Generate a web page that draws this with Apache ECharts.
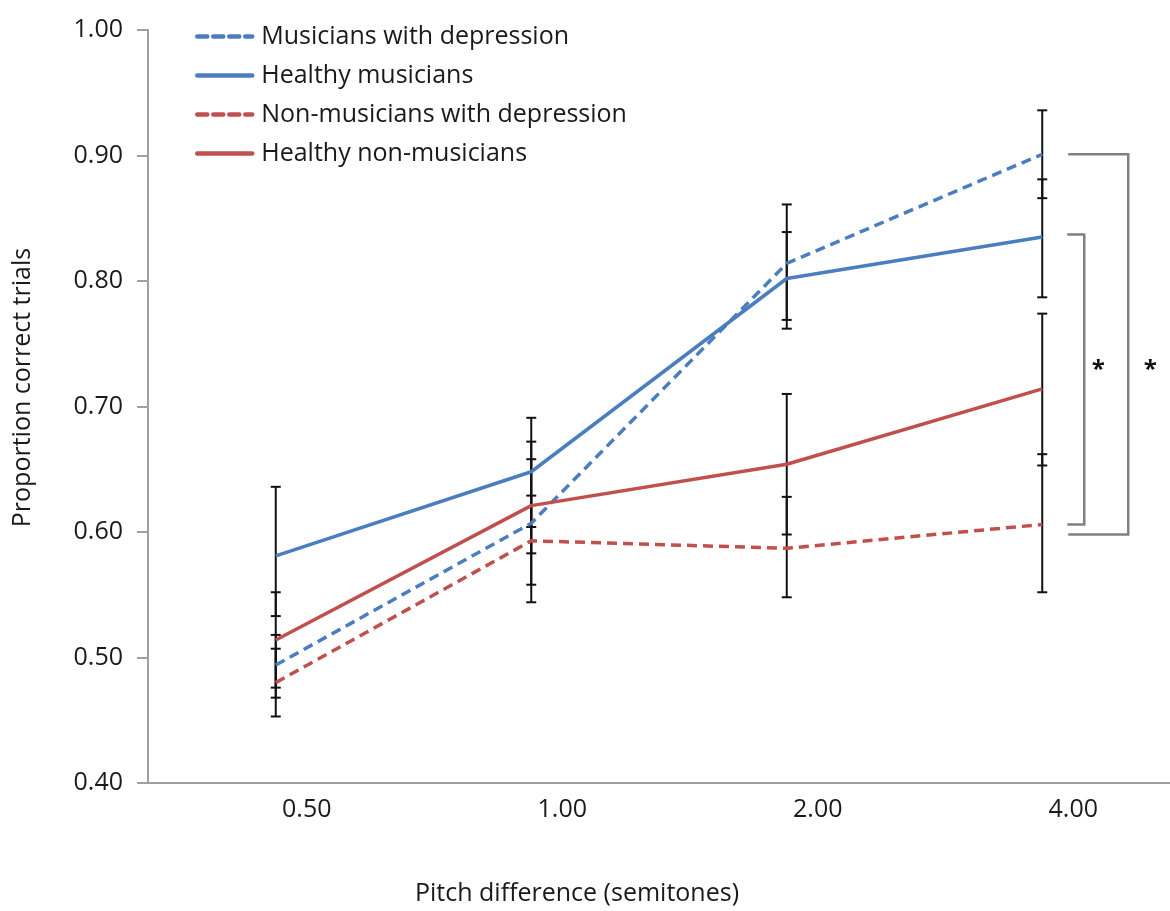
<!DOCTYPE html>
<html>
<head>
<meta charset="utf-8">
<script src="https://cdn.jsdelivr.net/npm/echarts@6/dist/echarts.min.js"></script>
<style>
  html, body { margin: 0; padding: 0; background: #fff; }
  #chart { width: 1170px; height: 911px; }
</style>
</head>
<body>
<div id="chart"></div>
<script>
const categories = ['0.50', '1.00', '2.00', '4.00'];

const seriesNames = [
  'Musicians with depression',
  'Healthy musicians',
  'Non-musicians with depression',
  'Healthy non-musicians'
];

// means
const musDep = [0.494, 0.607, 0.814, 0.901];
const musHealthy = [0.581, 0.648, 0.802, 0.835];
const nonDep = [0.480, 0.593, 0.587, 0.606];
const nonHealthy = [0.514, 0.621, 0.654, 0.714];

// error bars [low, high]
const musDepErr = [[0.468, 0.518], [0.544, 0.672], [0.769, 0.861], [0.866, 0.936]];
const musHealthyErr = [[0.533, 0.636], [0.604, 0.691], [0.762, 0.839], [0.787, 0.881]];
const nonDepErr = [[0.453, 0.507], [0.558, 0.629], [0.548, 0.628], [0.552, 0.662]];
const nonHealthyErr = [[0.476, 0.552], [0.583, 0.658], [0.598, 0.710], [0.653, 0.774]];

// significance brackets at 4.00 [bottom, top]
const bracketInner = [0.606, 0.837];
const bracketOuter = [0.598, 0.901];
const starLevel = 0.734;

const blue = '#4a7ebf';
const red = '#c0504d';
const axisGray = '#a0a0a0';
const textColor = '#1a1a1a';
const font = 'Open Sans';

const chart = echarts.init(document.getElementById('chart'));

function errSeries(name, errs) {
  return {
    name: name + ' err',
    type: 'custom',
    z: 1,
    silent: true,
    data: errs.map((e, i) => [i, e[0], e[1]]),
    renderItem: function (params, api) {
      const lo = api.coord([api.value(0), api.value(1)]);
      const hi = api.coord([api.value(0), api.value(2)]);
      const w = 5;
      const style = { stroke: '#111', lineWidth: 2 };
      return {
        type: 'group',
        children: [
          { type: 'line', shape: { x1: lo[0], y1: lo[1], x2: hi[0], y2: hi[1] }, style },
          { type: 'line', shape: { x1: lo[0] - w, y1: lo[1], x2: lo[0] + w, y2: lo[1] }, style },
          { type: 'line', shape: { x1: hi[0] - w, y1: hi[1], x2: hi[0] + w, y2: hi[1] }, style }
        ]
      };
    }
  };
}

function lineSeries(name, data, color, dashed) {
  return {
    name: name,
    type: 'line',
    data: data,
    symbol: 'none',
    z: 3,
    lineStyle: { color: color, width: 3.5, type: dashed ? [10, 6] : 'solid' },
    itemStyle: { color: color }
  };
}

function bracketSeries(bounds, armStart, armEnd, starOffset) {
  return {
    type: 'custom',
    silent: true,
    z: 2,
    data: [[categories.length - 1, bounds[0], bounds[1], starLevel]],
    renderItem: function (params, api) {
      const bot = api.coord([api.value(0), api.value(1)]);
      const top = api.coord([api.value(0), api.value(2)]);
      const star = api.coord([api.value(0), api.value(3)]);
      const x0 = bot[0] + armStart;
      const x1 = bot[0] + armEnd;
      return {
        type: 'group',
        children: [
          {
            type: 'polyline',
            shape: { points: [[x0, top[1]], [x1, top[1]], [x1, bot[1]], [x0, bot[1]]] },
            style: { stroke: '#808080', lineWidth: 2.5, fill: null }
          },
          {
            type: 'text',
            style: {
              text: '*', x: bot[0] + starOffset, y: star[1] + 6,
              fill: '#111', font: 'bold 24px ' + font, align: 'center', verticalAlign: 'middle'
            }
          }
        ]
      };
    }
  };
}

const option = {
  backgroundColor: '#fff',
  animation: false,
  grid: { left: 148, right: 0, top: 30, bottom: 119 },
  legend: {
    orient: 'vertical',
    left: 190,
    top: 19,
    itemGap: 14,
    itemWidth: 55,
    itemHeight: 26,
    data: seriesNames,
    itemStyle: { opacity: 0 },
    lineStyle: { width: 4.5, cap: 'round' },
    textStyle: { fontFamily: font, fontSize: 25, color: textColor, padding: [0, 0, 0, 4] }
  },
  xAxis: {
    type: 'category',
    data: categories,
    boundaryGap: true,
    name: 'Pitch difference (semitones)',
    nameLocation: 'middle',
    nameGap: 98,
    nameTextStyle: { fontFamily: font, fontSize: 25, color: textColor, padding: [0, 164, 0, 0] },
    axisLine: { lineStyle: { color: axisGray, width: 2 } },
    axisTick: { length: 14, lineStyle: { color: axisGray, width: 2 } },
    axisLabel: { fontFamily: font, fontSize: 25, color: textColor, margin: 14, padding: [0, 0, 0, 62] },
    splitLine: { show: false }
  },
  yAxis: {
    type: 'value',
    min: 0.4,
    max: 1.0,
    interval: 0.1,
    name: 'Proportion correct trials',
    nameLocation: 'middle',
    nameGap: 113,
    nameTextStyle: { fontFamily: font, fontSize: 25, color: textColor, padding: [0, 0, 0, 38] },
    axisLine: { show: true, lineStyle: { color: axisGray, width: 2 } },
    axisTick: { show: true, length: 11, lineStyle: { color: axisGray, width: 2 } },
    axisLabel: {
      fontFamily: font, fontSize: 25, color: textColor, margin: 25,
      formatter: (v) => v.toFixed(2)
    },
    splitLine: { show: false }
  },
  series: [
    errSeries(seriesNames[0], musDepErr),
    errSeries(seriesNames[1], musHealthyErr),
    errSeries(seriesNames[2], nonDepErr),
    errSeries(seriesNames[3], nonHealthyErr),
    lineSeries(seriesNames[0], musDep, blue, true),
    lineSeries(seriesNames[1], musHealthy, blue, false),
    lineSeries(seriesNames[2], nonDep, red, true),
    lineSeries(seriesNames[3], nonHealthy, red, false),
    bracketSeries(bracketInner, 25, 42, 56),
    bracketSeries(bracketOuter, 26, 86, 108)
  ]
};

chart.setOption(option);
</script>
</body>
</html>
